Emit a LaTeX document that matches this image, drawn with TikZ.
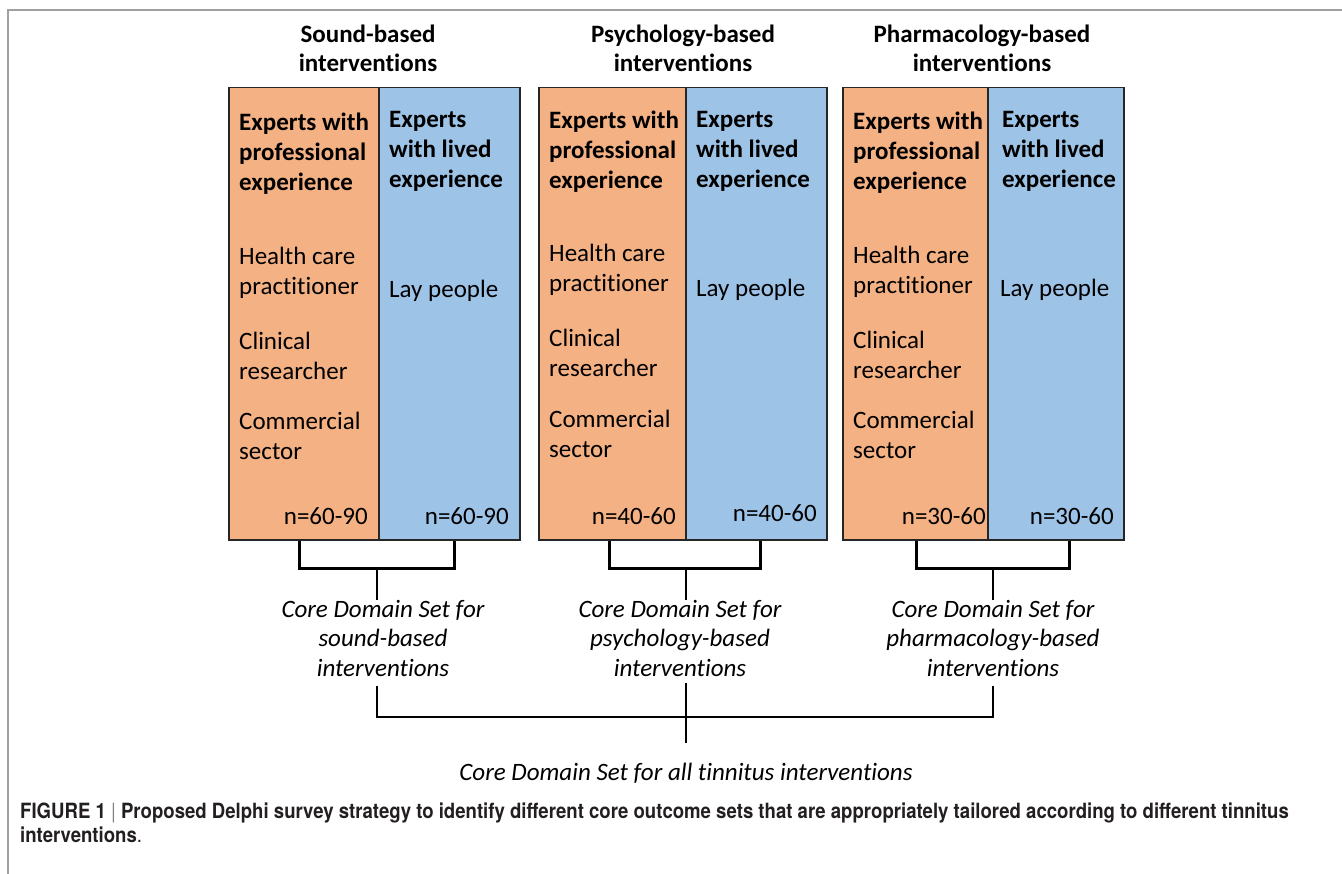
\documentclass[tikz,border=0pt]{standalone}
\usepackage{fontspec}
\setmainfont[RawFeature={-liga;-clig;-calt;-dlig}]{Carlito}
\newfontfamily\capfont[FakeStretch=0.885]{TeX Gyre Heros}
\usetikzlibrary{positioning}

\definecolor{proorange}{RGB}{244,177,131}
\definecolor{layblue}{RGB}{157,195,230}
\definecolor{framegray}{RGB}{160,160,160}
\definecolor{captext}{RGB}{35,31,32}

% multi-line nodes sit on the baseline of their last line
\tikzset{
  pro/.style={draw=black!85, fill=proorange, line width=1.5pt, minimum width=#1, minimum height=452pt, inner sep=0pt, anchor=north west},
  lay/.style={draw=black!85, fill=layblue, line width=1.5pt, minimum width=#1, minimum height=452pt, inner sep=0pt, anchor=north west},
  txt/.style={font=\fontsize{25}{30}\selectfont, align=left, inner sep=0pt, anchor=base west},
  hd/.style={txt, font=\fontsize{25}{30}\selectfont\bfseries},
  num/.style={font=\fontsize{25}{30}\selectfont, inner sep=0pt, anchor=base east},
  title/.style={font=\fontsize{25}{29}\selectfont\bfseries, align=center, inner sep=0pt, anchor=base},
  cds/.style={font=\fontsize{25}{29.5}\selectfont\itshape, align=center, inner sep=0pt, anchor=base},
  bracket/.style={line width=3pt},
  stem/.style={line width=1.5pt}
}

\begin{document}
\begin{tikzpicture}[x=1pt, y=-1pt]
\useasboundingbox (0,0) rectangle (1342,874);
\draw[framegray, line width=1.5pt] (1342,10) -- (8,10) -- (8,874);

% sound-based column
\node[title] (sndtitle) at (368,72) {Sound-based\\interventions};
\node[pro=150pt] (sndpro) at (228,87) {};
\node[lay=141pt] (sndlay) at (378,87) {};
\node[hd] (sndprohd) at (239,191) {Experts with\\professional\\experience};
\node[hd] (sndlayhd) at (389,188) {Experts\\with lived\\experience};
\node[txt] (sndhcp) at (239,295) {Health care\\practitioner};
\node[txt] (sndcr) at (239,380) {Clinical\\researcher};
\node[txt] (sndcs) at (239,460) {Commercial\\sector};
\node[txt] (sndlp) at (389,298) {Lay people};
\node[num] (sndpron) at (368,524) {n=60-90};
\node[num] (sndlayn) at (509,524) {n=60-90};

% psychology-based column
\node[title] (psytitle) at (683,72) {Psychology-based\\interventions};
\node[pro=147pt] (psypro) at (538,87) {};
\node[lay=141pt] (psylay) at (685,87) {};
\node[hd] (psyprohd) at (549,189) {Experts with\\professional\\experience};
\node[hd] (psylayhd) at (696,188) {Experts\\with lived\\experience};
\node[txt] (psyhcp) at (549,292) {Health care\\practitioner};
\node[txt] (psycr) at (549,377) {Clinical\\researcher};
\node[txt] (psycs) at (549,457) {Commercial\\sector};
\node[txt] (psylp) at (696,297) {Lay people};
\node[num] (psypron) at (676,524) {n=40-60};
\node[num] (psylayn) at (817,521) {n=40-60};

% pharmacology-based column
\node[title] (phatitle) at (982,72) {Pharmacology-based\\interventions};
\node[pro=145pt] (phapro) at (842,87) {};
\node[lay=136pt] (phalay) at (987,87) {};
\node[hd] (phaprohd) at (853,190) {Experts with\\professional\\experience};
\node[hd] (phalayhd) at (1002,188) {Experts\\with lived\\experience};
\node[txt] (phahcp) at (853,294) {Health care\\practitioner};
\node[txt] (phacr) at (853,379) {Clinical\\researcher};
\node[txt] (phacs) at (853,459) {Commercial\\sector};
\node[txt] (phalp) at (1000,297) {Lay people};
\node[num] (phapron) at (986,524) {n=30-60};
\node[num] (phalayn) at (1114,524) {n=30-60};

% one core set per intervention type
\coordinate (sndmid) at (377,567);
\coordinate (psymid) at (686,567);
\coordinate (phamid) at (993,567);
\node[cds] (sndcds) at (383,676) {Core Domain Set for\\sound-based\\interventions};
\node[cds] (psycds) at (680,676) {Core Domain Set for\\psychology-based\\interventions};
\node[cds] (phacds) at (993,676) {Core Domain Set for\\pharmacology-based\\interventions};
\draw[bracket] ([xshift=-4pt]sndpro.south) -- ++(0,28) -| ([xshift=5.5pt]sndlay.south);
\draw[bracket] ([xshift=-2.5pt]psypro.south) -- ++(0,28) -| ([xshift=4.5pt]psylay.south);
\draw[bracket] ([xshift=1.5pt]phapro.south) -- ++(0,28) -| ([xshift=14pt]phalay.south);
\draw[stem] (sndmid) -- (sndmid |- sndcds.north);
\draw[stem] (psymid) -- (psymid |- psycds.north);
\draw[stem] (phamid) -- (phamid |- phacds.north);

% all interventions together
\coordinate (allbar) at (686,717);
\node[cds] (allcds) at (686,780) {Core Domain Set for all tinnitus interventions};
\draw[stem] ([yshift=-10pt]sndcds.south -| sndmid) |- (allbar) -| ([yshift=-10pt]phacds.south -| phamid);
\draw[stem] ([yshift=-7pt]psycds.south -| psymid) -- ([yshift=19pt]allcds.north -| psymid);

\node[font=\capfont\fontsize{21}{24}\selectfont\bfseries, text=captext, align=left, inner sep=0pt, anchor=base west] (fig) at (20,842)
  {FIGURE 1 {\mdseries\color{gray}|} Proposed Delphi survey strategy to identify different core outcome sets that are appropriately tailored according to different tinnitus\\interventions{\mdseries .}};
\end{tikzpicture}
\end{document}
